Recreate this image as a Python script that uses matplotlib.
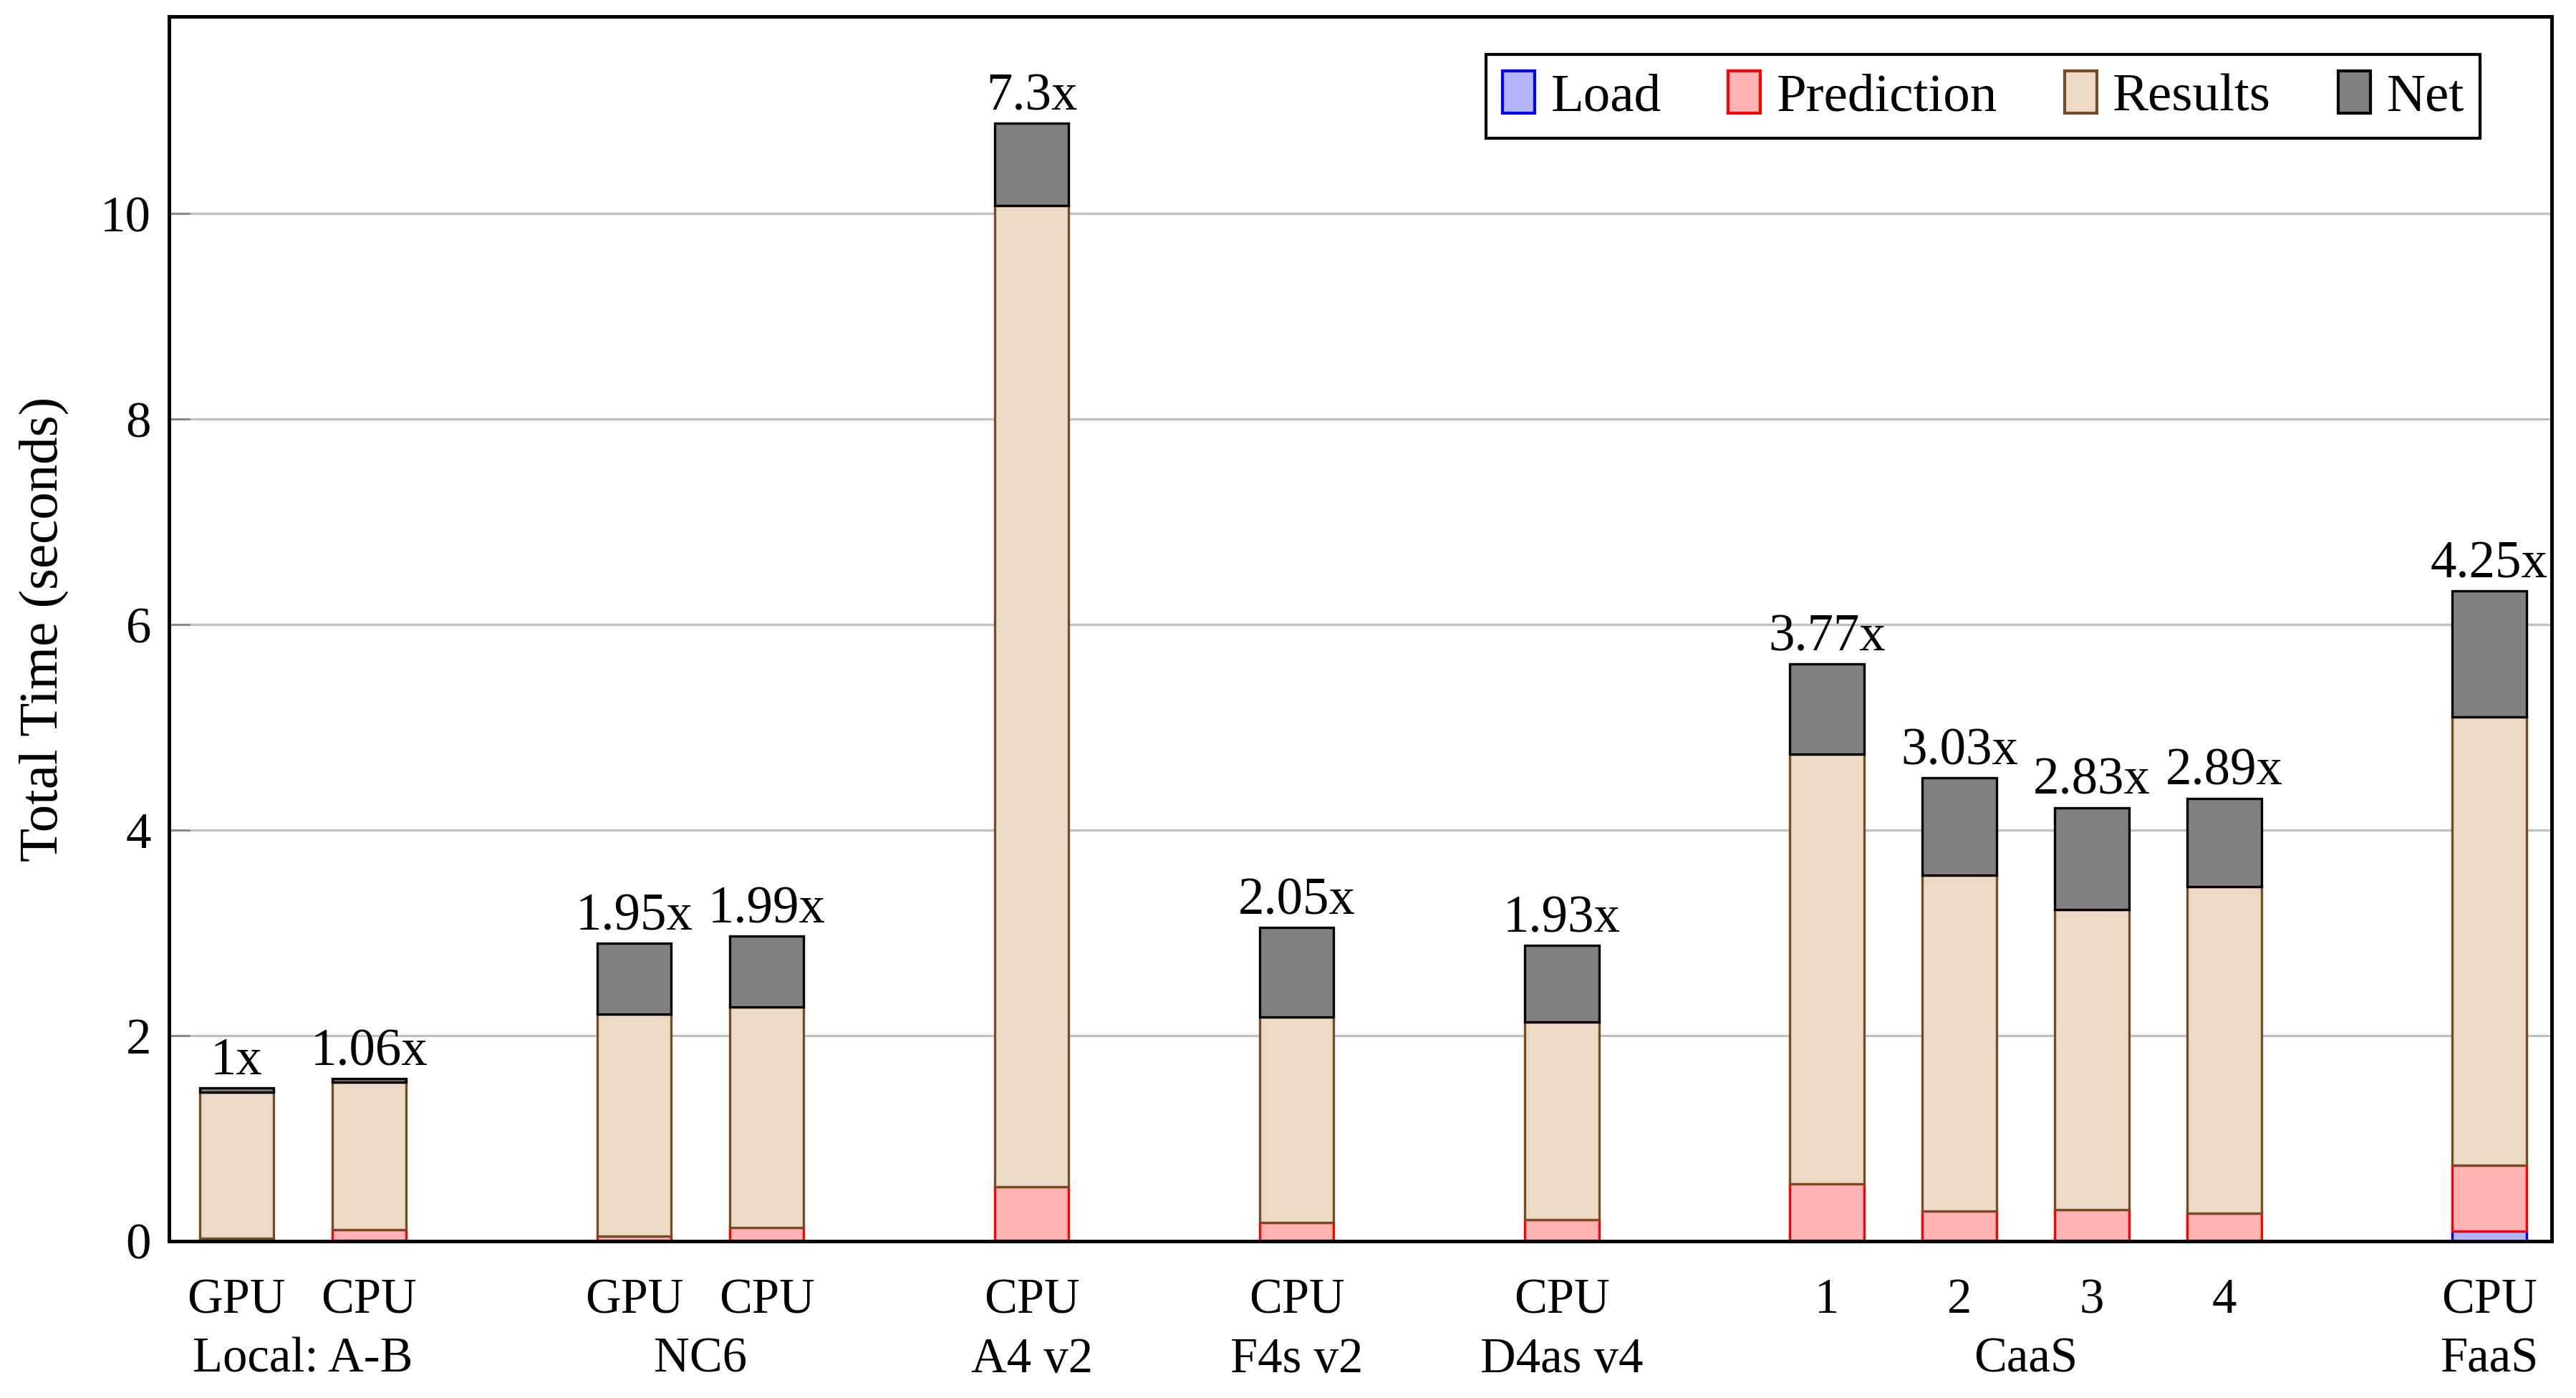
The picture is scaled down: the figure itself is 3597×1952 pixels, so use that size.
import matplotlib.pyplot as plt
from matplotlib.patches import Patch

plt.rcParams['font.family'] = ['Liberation Serif', 'DejaVu Serif']
plt.rcParams['font.size'] = 16.5

# grupos de maquinas y etiquetas de cada barra
grupos = ['Local: A-B', 'NC6', 'A4 v2', 'F4s v2', 'D4as v4', 'CaaS', 'FaaS']
sub_etiquetas = [['GPU', 'CPU'], ['GPU', 'CPU'], ['CPU'], ['CPU'], ['CPU'],
                 ['1', '2', '3', '4'], ['CPU']]

# tiempos (segundos) por fase, una entrada por barra
load = [0.01, 0.01, 0.01, 0.01, 0.01, 0.01, 0.01, 0.01, 0.01, 0.01, 0.01, 0.10]
prediction = [0.02, 0.10, 0.04, 0.12, 0.52, 0.17, 0.20, 0.55, 0.28, 0.30, 0.26, 0.64]
results = [1.42, 1.44, 2.16, 2.15, 9.55, 2.00, 1.92, 4.18, 3.27, 2.92, 3.18, 4.36]
net = [0.04, 0.03, 0.69, 0.69, 0.80, 0.87, 0.75, 0.88, 0.95, 0.99, 0.86, 1.23]
speedup = ['1x', '1.06x', '1.95x', '1.99x', '7.3x', '2.05x', '1.93x',
           '3.77x', '3.03x', '2.83x', '2.89x', '4.25x']

# posiciones: barras seguidas dentro del grupo, hueco entre grupos
posiciones = []
centros_grupo = []
x = 0
for subs in sub_etiquetas:
    inicio = x
    for _ in subs:
        posiciones.append(x)
        x += 1
    centros_grupo.append((inicio + x - 1) / 2)
    x += 1
etiquetas = [s for subs in sub_etiquetas for s in subs]

fig = plt.figure(figsize=(3597 / 300, 1952 / 300), dpi=300)
ax = fig.add_axes([236 / 3597, 1 - 1733 / 1952, 3327 / 3597, 1710 / 1952])

series = [
    ('Load', load, '#b3b3ff', '#0000ff'),
    ('Prediction', prediction, '#ffb3b3', '#ff0000'),
    ('Results', results, '#ecd9c6', '#734d26'),
    ('Net', net, '#808080', '#000000'),
]
ancho = 0.56
base = [0.0] * len(posiciones)
handles = []
for nombre, valores, relleno, borde in series:
    ax.bar(posiciones, valores, ancho, bottom=base, color=relleno,
           edgecolor=borde, linewidth=0.8, zorder=2)
    base = [b + v for b, v in zip(base, valores)]
    handles.append(Patch(facecolor=relleno, edgecolor=borde, linewidth=1.0, label=nombre))

# etiquetas de speedup encima de cada barra
for xp, total, txt in zip(posiciones, base, speedup):
    ax.annotate(txt, (xp, total), xytext=(0, 4.5), textcoords='offset points',
                ha='center', va='baseline', fontsize=17.5)

ax.set_xlim(-0.51, 17.47)
ax.set_ylim(0, 11.92)
ax.set_yticks([0, 2, 4, 6, 8, 10])
ax.yaxis.grid(True, color='#c0c0c0', linewidth=0.8)
ax.set_axisbelow(True)
ax.tick_params(axis='y', direction='in', length=7, width=0.6, color='#808080', pad=6,
               labelsize=17)
ax.set_xticks([])
for sp in ax.spines.values():
    sp.set_linewidth(1.2)

# etiquetas del eje x en dos lineas
trans = ax.get_xaxis_transform()
for xp, txt in zip(posiciones, etiquetas):
    ax.text(xp, -0.0585, txt, transform=trans, ha='center', va='baseline')
for xc, txt in zip(centros_grupo, grupos):
    ax.text(xc, -0.107, txt, transform=trans, ha='center', va='baseline')

ax.set_ylabel('Total Time (seconds)', fontsize=18.5)
ax.yaxis.set_label_coords(-0.042, 0.5)

leg = ax.legend(handles=handles, ncol=4, loc='upper right', bbox_to_anchor=(0.970, 0.969),
                borderaxespad=0, fancybox=False, edgecolor='black', framealpha=1,
                handlelength=0.6, handleheight=0.85, handletextpad=0.3,
                columnspacing=1.25, borderpad=0.3, fontsize=18)
leg.get_frame().set_linewidth(1.0)

fig.savefig('out.png', dpi=300)
